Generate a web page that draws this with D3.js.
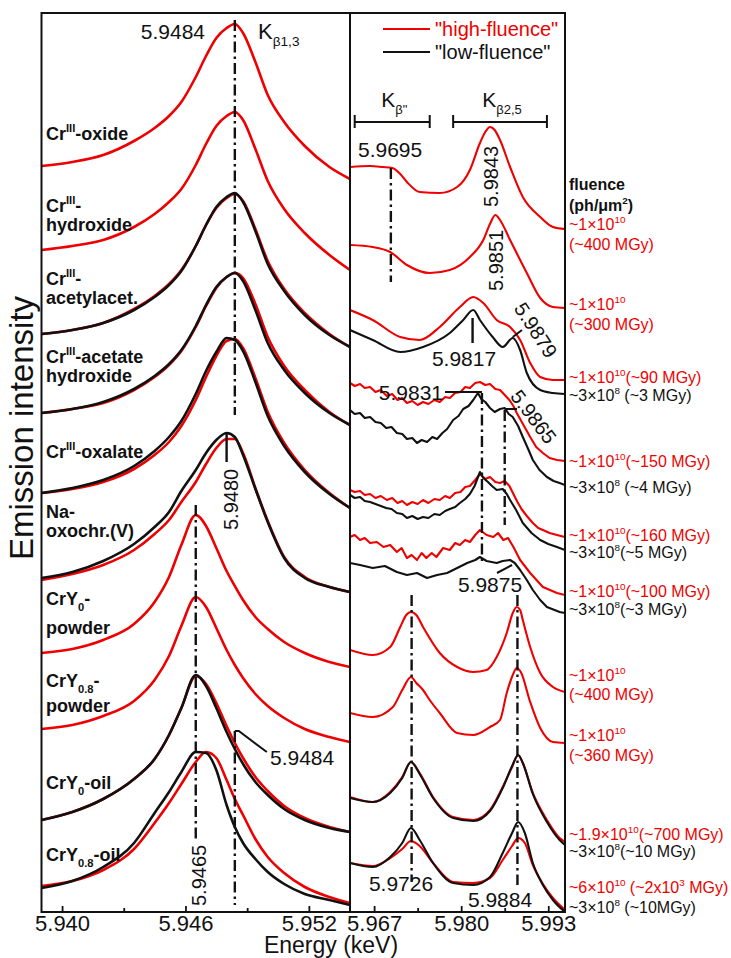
<!DOCTYPE html>
<html>
<head>
<meta charset="utf-8">
<script src="https://cdnjs.cloudflare.com/ajax/libs/d3/7.8.5/d3.min.js"></script>
<style>
  body { margin: 0; background: #fff; }
  svg { display: block; }
</style>
</head>
<body>
<div id="chart"></div>
<script>
// ---- data ---------------------------------------------------------------
// Kβ1,3 region: energy grid (keV) shared by all main-line spectra
const leftE = [5.9390, 5.9405, 5.9420, 5.9435, 5.9445, 5.9452, 5.9458, 5.9465, 5.9470, 5.9475,
               5.9480, 5.9484, 5.9488, 5.9494, 5.9500, 5.9508, 5.9518, 5.9530, 5.9540];

// intensities above each spectrum's own baseline (a.u.)
const oxideHigh   = [1.3, 1.7, 2.4, 3.8, 5.1, 6.3, 7.7, 10.2, 12.3, 14.1, 15.1, 15.5, 14.6, 11.7, 8.4, 5.7, 3.3, 1.2, 0];
const hydroxHigh  = [2.0, 2.4, 3.0, 4.3, 5.6, 6.8, 8.1, 10.5, 12.6, 14.4, 15.4, 15.8, 15.0, 12.1, 8.9, 6.1, 3.7, 1.5, 0];
const acacHigh    = [1.3, 1.7, 2.4, 3.8, 5.1, 6.3, 7.7, 10.1, 12.2, 13.9, 14.9, 15.3, 14.6, 11.8, 8.6, 5.8, 3.4, 1.3, 0];
const acacLow     = [1.3, 1.7, 2.4, 3.7, 5.0, 6.2, 7.6, 10.1, 12.2, 14.0, 15.0, 15.4, 14.5, 11.6, 8.3, 5.6, 3.2, 1.2, 0];
const acetHigh    = [1.2, 1.6, 2.2, 3.5, 4.8, 6.0, 7.4, 9.8, 11.9, 13.7, 14.8, 15.2, 14.7, 12.1, 8.8, 5.9, 3.5, 1.3, 0];
const acetLow     = [1.2, 1.6, 2.3, 3.6, 4.9, 6.1, 7.5, 9.9, 12.0, 13.8, 14.8, 15.2, 14.4, 11.5, 8.2, 5.5, 3.2, 1.2, 0];
const oxalHigh    = [1.5, 1.9, 2.6, 3.9, 5.3, 6.6, 8.2, 10.8, 13.1, 15.2, 16.7, 16.9, 16.0, 13.0, 9.6, 6.5, 3.8, 1.5, 0];
const oxalLow     = [1.5, 2.0, 2.8, 4.2, 5.7, 7.1, 8.7, 11.4, 13.7, 15.6, 17.0, 16.8, 15.7, 12.6, 9.2, 6.2, 3.6, 1.4, 0];
const naoxoHigh   = [1.2, 1.8, 2.7, 4.2, 5.8, 7.2, 9.0, 11.0, 12.8, 14.4, 15.3, 15.3, 13.9, 10.4, 7.1, 3.5, 1.5, 0.5, 0];
const naoxoLow    = [1.4, 2.0, 3.1, 4.8, 6.5, 8.0, 10.1, 12.2, 13.9, 15.2, 15.9, 15.5, 13.7, 10.3, 7.0, 3.4, 1.4, 0.5, 0];
const y0powHigh   = [1.4, 1.8, 2.7, 4.3, 6.5, 9.0, 12.2, 15.2, 14.1, 11.9, 9.6, 8.1, 6.7, 5.0, 3.8, 2.5, 1.4, 0.5, 0];
const y08powHigh  = [1.3, 1.7, 2.6, 4.1, 6.2, 8.6, 11.6, 14.5, 13.5, 11.4, 9.2, 7.7, 6.4, 4.8, 3.6, 2.4, 1.3, 0.5, 0];
const y0oilHigh   = [1.2, 2.0, 3.3, 5.3, 7.3, 9.7, 12.4, 15.6, 14.8, 12.9, 10.6, 8.9, 7.4, 5.5, 4.1, 2.6, 1.4, 0.5, 0];
const y0oilLow    = [1.2, 2.0, 3.3, 5.3, 7.3, 9.7, 12.4, 15.7, 14.6, 12.4, 10.0, 8.3, 6.8, 5.0, 3.7, 2.3, 1.2, 0.4, 0];
const y08oilHigh  = [1.9, 2.4, 3.5, 5.6, 8.2, 10.2, 12.1, 14.3, 15.3, 14.7, 12.5, 10.6, 9.0, 6.6, 4.8, 3.2, 1.8, 0.8, 0.2];
const y08oilLow   = [1.7, 2.4, 3.8, 6.2, 9.2, 11.3, 13.3, 15.3, 15.2, 13.5, 10.0, 7.8, 6.2, 4.6, 3.3, 2.1, 1.1, 0.5, 0];

// vertical stacking offset of each sample (top to bottom)
const leftOffsets = [73.3, 64.2, 56.5, 48.7, 40.4, 32.0, 24.5, 17.0, 8.0, 0.7];
const leftHigh = [oxideHigh, hydroxHigh, acacHigh, acetHigh, oxalHigh, naoxoHigh, y0powHigh, y08powHigh, y0oilHigh, y08oilHigh];
const leftLow  = [null, null, acacLow, acetLow, oxalLow, naoxoLow, null, null, y0oilLow, y08oilLow];

// Kβ'' / Kβ2,5 region: [energy keV, stacked intensity a.u.]
const r1High = [[5.9634,74.5],[5.9664,74.6],[5.9683,74.5],[5.9697,74.4],[5.9709,73.8],[5.9719,73.0],[5.9738,72.0],[5.9768,71.9],[5.9794,72.5],[5.9813,74.2],[5.9828,76.9],[5.9836,78.0],[5.9843,78.5],[5.9850,78.2],[5.9858,77.2],[5.9873,74.5],[5.9892,71.5],[5.9918,69.5],[5.9937,68.5],[5.9955,68.3]];
const r2High = [[5.9634,66.7],[5.9668,66.5],[5.9694,66.0],[5.9719,64.7],[5.9753,63.9],[5.9783,64.2],[5.9813,65.5],[5.9833,67.2],[5.9843,68.8],[5.9851,69.7],[5.9858,69.2],[5.9873,67.2],[5.9898,63.9],[5.9918,61.4],[5.9937,60.5],[5.9955,60.4]];
const r3High = [[5.9634,60.2],[5.9668,59.2],[5.9709,57.5],[5.9738,57.2],[5.9768,58.5],[5.9798,60.5],[5.9818,61.5],[5.9833,60.9],[5.9853,59.2],[5.9873,58.5],[5.9888,57.2],[5.9903,54.9],[5.9918,53.5],[5.9937,53.2],[5.9955,53.2]];
const r3Low  = [[5.9634,58.2],[5.9668,57.2],[5.9709,56.0],[5.9743,56.5],[5.9783,57.9],[5.9803,59.2],[5.9818,60.2],[5.9828,59.2],[5.9847,57.5],[5.9862,56.5],[5.9877,57.4],[5.9888,56.2],[5.9898,53.9],[5.9918,52.2],[5.9937,51.9],[5.9955,51.8]];
const r4High = [[5.9634,52.9],[5.9641,52.6],[5.9649,52.8],[5.9656,52.4],[5.9664,52.5],[5.9672,52.0],[5.9680,52.2],[5.9689,51.6],[5.9697,51.8],[5.9705,51.2],[5.9712,51.4],[5.9719,50.9],[5.9727,51.1],[5.9735,50.7],[5.9743,51.0],[5.9751,50.8],[5.9760,51.2],[5.9768,51.0],[5.9776,51.5],[5.9783,51.4],[5.9791,51.9],[5.9799,52.0],[5.9806,52.5],[5.9813,52.4],[5.9821,52.9],[5.9828,53.0],[5.9836,52.7],[5.9843,52.8],[5.9851,52.3],[5.9858,52.2],[5.9865,51.7],[5.9872,51.2],[5.9878,50.6],[5.9883,49.9],[5.9893,48.7],[5.9903,47.5],[5.9912,46.5],[5.9922,45.9],[5.9932,45.4],[5.9943,45.2],[5.9955,45.1]];
const r4Low  = [[5.9634,50.2],[5.9641,49.8],[5.9649,49.9],[5.9656,49.4],[5.9664,49.5],[5.9672,49.0],[5.9680,48.9],[5.9688,48.4],[5.9696,48.5],[5.9704,47.9],[5.9712,47.8],[5.9719,47.3],[5.9727,47.4],[5.9734,46.9],[5.9741,47.2],[5.9749,47.0],[5.9757,47.5],[5.9764,47.3],[5.9772,47.9],[5.9779,48.3],[5.9788,49.2],[5.9796,49.6],[5.9803,50.3],[5.9811,50.6],[5.9818,51.2],[5.9825,51.9],[5.9830,51.3],[5.9836,51.0],[5.9843,50.4],[5.9850,50.0],[5.9858,50.3],[5.9865,50.4],[5.9871,49.8],[5.9877,49.5],[5.9885,48.6],[5.9892,47.5],[5.9900,46.3],[5.9907,45.2],[5.9917,44.2],[5.9928,43.5],[5.9938,43.1],[5.9947,42.9],[5.9955,42.7]];
const r5High = [[5.9634,42.2],[5.9641,42.0],[5.9649,42.1],[5.9656,41.7],[5.9664,41.8],[5.9672,41.4],[5.9680,41.6],[5.9689,41.2],[5.9697,41.4],[5.9705,40.9],[5.9712,41.1],[5.9719,40.7],[5.9727,41.0],[5.9735,40.8],[5.9743,41.2],[5.9751,40.9],[5.9760,41.3],[5.9768,41.2],[5.9776,41.6],[5.9783,41.4],[5.9791,41.9],[5.9799,42.0],[5.9806,42.5],[5.9813,42.6],[5.9821,43.2],[5.9828,43.8],[5.9836,43.3],[5.9843,43.5],[5.9851,43.0],[5.9858,42.9],[5.9865,43.1],[5.9872,42.6],[5.9878,41.8],[5.9884,41.0],[5.9890,40.3],[5.9898,39.6],[5.9907,38.9],[5.9915,38.4],[5.9922,38.2],[5.9932,37.9],[5.9943,37.7],[5.9955,37.5]];
const r5Low  = [[5.9634,41.7],[5.9641,41.4],[5.9649,41.5],[5.9656,41.1],[5.9664,41.0],[5.9672,40.8],[5.9680,40.6],[5.9688,40.4],[5.9696,40.3],[5.9704,39.9],[5.9712,39.8],[5.9719,39.4],[5.9727,39.6],[5.9735,39.3],[5.9743,39.5],[5.9751,39.4],[5.9760,39.8],[5.9768,39.7],[5.9776,40.1],[5.9783,40.3],[5.9791,40.5],[5.9798,40.9],[5.9806,41.3],[5.9813,41.8],[5.9820,42.6],[5.9828,44.0],[5.9833,43.4],[5.9840,43.0],[5.9846,42.6],[5.9853,42.2],[5.9862,42.3],[5.9868,41.8],[5.9873,41.2],[5.9882,40.2],[5.9892,38.9],[5.9905,37.9],[5.9918,37.2],[5.9930,36.8],[5.9943,36.5],[5.9955,36.2]];
const r6High = [[5.9634,37.5],[5.9641,37.7],[5.9649,37.2],[5.9656,37.4],[5.9664,36.9],[5.9674,37.0],[5.9684,36.5],[5.9694,36.7],[5.9704,36.0],[5.9711,36.4],[5.9719,35.4],[5.9726,35.7],[5.9734,35.2],[5.9741,35.9],[5.9748,35.4],[5.9756,35.9],[5.9763,35.5],[5.9773,36.4],[5.9783,36.2],[5.9791,36.9],[5.9798,36.7],[5.9806,37.2],[5.9813,37.0],[5.9821,37.7],[5.9828,38.2],[5.9838,37.7],[5.9848,37.5],[5.9855,37.9],[5.9863,37.2],[5.9870,37.4],[5.9878,36.5],[5.9888,35.2],[5.9903,33.9],[5.9922,32.5],[5.9943,31.9],[5.9955,31.7]];
const r6Low  = [[5.9634,34.9],[5.9649,34.7],[5.9668,34.4],[5.9686,34.6],[5.9704,34.0],[5.9719,33.7],[5.9734,33.9],[5.9749,33.4],[5.9764,33.7],[5.9779,33.9],[5.9794,34.4],[5.9809,34.9],[5.9821,35.2],[5.9828,35.5],[5.9838,35.1],[5.9853,34.9],[5.9862,35.1],[5.9873,35.2],[5.9880,34.9],[5.9888,34.2],[5.9898,33.2],[5.9907,32.2],[5.9918,31.2],[5.9928,30.5],[5.9947,30.0],[5.9955,29.9]];
const r7High = [[5.9634,26.2],[5.9668,25.7],[5.9694,26.5],[5.9709,28.5],[5.9718,29.7],[5.9725,30.0],[5.9733,29.7],[5.9743,28.5],[5.9768,25.9],[5.9794,24.5],[5.9818,24.0],[5.9838,24.2],[5.9853,25.5],[5.9868,27.9],[5.9877,29.9],[5.9883,30.5],[5.9888,30.2],[5.9892,29.2],[5.9903,26.5],[5.9918,23.9],[5.9937,22.5],[5.9955,22.0]];
const r8High = [[5.9634,19.9],[5.9668,19.5],[5.9698,20.5],[5.9712,22.2],[5.9725,23.5],[5.9733,22.9],[5.9743,22.2],[5.9753,21.2],[5.9768,19.9],[5.9794,17.9],[5.9818,17.7],[5.9843,18.5],[5.9858,19.2],[5.9868,21.9],[5.9877,23.7],[5.9883,24.4],[5.9889,24.0],[5.9903,21.0],[5.9918,18.4],[5.9937,17.0],[5.9955,16.9]];
const r9High = [[5.9634,11.5],[5.9668,11.0],[5.9694,12.0],[5.9712,13.5],[5.9725,15.0],[5.9738,13.9],[5.9758,11.5],[5.9788,9.5],[5.9818,9.2],[5.9843,10.2],[5.9862,12.5],[5.9876,14.5],[5.9885,15.7],[5.9892,14.9],[5.9907,11.9],[5.9928,9.2],[5.9947,7.4],[5.9955,7.0]];
const r9Low  = [[5.9634,11.4],[5.9668,11.0],[5.9694,11.9],[5.9712,13.4],[5.9725,15.0],[5.9738,13.8],[5.9758,11.4],[5.9788,9.4],[5.9818,9.1],[5.9843,10.1],[5.9862,12.4],[5.9876,14.6],[5.9885,15.7],[5.9892,14.9],[5.9907,11.8],[5.9928,9.0],[5.9947,7.2],[5.9955,6.7]];
const r10High = [[5.9634,4.9],[5.9668,4.6],[5.9694,5.4],[5.9712,6.3],[5.9725,7.1],[5.9738,6.6],[5.9758,4.9],[5.9788,3.0],[5.9818,2.9],[5.9843,3.4],[5.9862,5.2],[5.9876,6.6],[5.9885,7.4],[5.9895,6.9],[5.9907,4.7],[5.9922,2.8],[5.9937,1.4],[5.9955,0.2]];
const r10Low  = [[5.9634,4.9],[5.9668,4.5],[5.9694,5.5],[5.9712,6.9],[5.9725,8.4],[5.9738,7.2],[5.9758,4.9],[5.9788,2.9],[5.9818,2.7],[5.9843,3.5],[5.9862,5.9],[5.9876,7.9],[5.9885,9.0],[5.9895,7.9],[5.9907,4.9],[5.9922,2.7],[5.9937,1.2],[5.9955,0.0]];

const rightHigh = [r1High, r2High, r3High, r4High, r5High, r6High, r7High, r8High, r9High, r10High];
const rightLow  = [null, null, r3Low, r4Low, r5Low, r6Low, null, null, r9Low, r10Low];
const rightNoisy = [false, false, false, true, true, true, false, false, false, false];

const leftTicks = [5.940, 5.946, 5.952], leftMinor = [5.943, 5.949];
const rightTicks = [5.967, 5.980, 5.993], rightMinor = [5.9735, 5.9865];

// ---- layout -------------------------------------------------------------
const width = 731, height = 958;
const RED = "#ee0000", INK = "#111";
const FONT = "'Liberation Sans', Arial, Helvetica, sans-serif";
const yTop = 13, yBottom = 912, x0 = 41.5, xMid = 350, x1 = 565;

const xL = d3.scaleLinear().domain([5.9390, 5.9540]).range([x0, xMid]);
const xR = d3.scaleLinear().domain([5.9634, 5.9955]).range([xMid, x1]);
const y = d3.scaleLinear().domain([0, 89.9]).range([yBottom, yTop]);

const svg = d3.select("#chart").append("svg")
    .attr("width", width).attr("height", height)
    .style("font-family", FONT);

const defs = svg.append("defs");
defs.append("clipPath").attr("id", "clipL").append("rect")
    .attr("x", x0).attr("y", yTop).attr("width", xMid - x0).attr("height", yBottom - yTop);
defs.append("clipPath").attr("id", "clipR").append("rect")
    .attr("x", xMid).attr("y", yTop).attr("width", x1 - xMid).attr("height", yBottom - yTop);

// rich text with sup/sub parts
function richText(g, x, yb, parts, o) {
  const t = g.append("text").attr("x", x).attr("y", yb)
      .attr("font-size", o.size).attr("fill", o.fill || INK)
      .attr("font-weight", o.weight || null)
      .attr("text-anchor", o.anchor || "start");
  let shift = 0;
  parts.forEach(p => {
    const [s, kind] = Array.isArray(p) ? p : [p, null];
    const off = kind === "sup" ? -o.size * 0.42 : kind === "sub" ? o.size * 0.32 : 0;
    t.append("tspan").attr("dy", off - shift)
        .attr("font-size", kind ? o.size * 0.62 : null).text(s);
    shift = off;
  });
  return t;
}

const dashDot = "11,4,2.5,4";

// ---- left panel curves ------------------------------------------------------
const gL = svg.append("g").attr("clip-path", "url(#clipL)");
const lineL = d3.line().x(d => xL(d[0])).y(d => y(d[1])).curve(d3.curveMonotoneX);

leftHigh.forEach((arr, i) => {
  const toPts = a => leftE.map((e, k) => [e, leftOffsets[i] + a[k]]);
  gL.append("path").datum(toPts(arr)).attr("d", lineL)
    .attr("fill", "none").attr("stroke", RED).attr("stroke-width", 2.6);
  if (leftLow[i]) {
    gL.append("path").datum(toPts(leftLow[i])).attr("d", lineL)
      .attr("fill", "none").attr("stroke", INK).attr("stroke-width", 2.6);
  }
});

// ---- right panel curves -----------------------------------------------------
const gR = svg.append("g").attr("clip-path", "url(#clipR)");
const lineR = d3.line().x(d => xR(d[0])).y(d => y(d[1])).curve(d3.curveMonotoneX);
const lineRaw = d3.line().x(d => xR(d[0])).y(d => y(d[1]));

rightHigh.forEach((arr, i) => {
  const gen = rightNoisy[i] ? lineRaw : lineR;
  gR.append("path").datum(arr).attr("d", gen)
    .attr("fill", "none").attr("stroke", RED).attr("stroke-width", 2.1)
    .attr("stroke-linejoin", "round");
  if (rightLow[i]) {
    gR.append("path").datum(rightLow[i]).attr("d", gen)
      .attr("fill", "none").attr("stroke", INK).attr("stroke-width", 2.1)
      .attr("stroke-linejoin", "round");
  }
});

// ---- frame and axes ---------------------------------------------------------
svg.append("rect").attr("x", x0).attr("y", yTop).attr("width", x1 - x0).attr("height", yBottom - yTop)
    .attr("fill", "none").attr("stroke", INK).attr("stroke-width", 2);
svg.append("line").attr("x1", xMid).attr("x2", xMid).attr("y1", yTop).attr("y2", yBottom)
    .attr("stroke", INK).attr("stroke-width", 2);

function drawAxis(scale, major, minor) {
  const gMaj = svg.append("g").attr("transform", `translate(0,${yBottom})`)
      .call(d3.axisBottom(scale).tickValues(major).tickSize(-6).tickPadding(3).tickFormat(d3.format(".3f")));
  const gMin = svg.append("g").attr("transform", `translate(0,${yBottom})`)
      .call(d3.axisBottom(scale).tickValues(minor).tickSize(-4).tickFormat(""));
  [gMaj, gMin].forEach(g => {
    g.select(".domain").remove();
    g.selectAll(".tick line").attr("stroke", INK).attr("stroke-width", 1.8);
  });
  gMaj.selectAll("text").attr("font-size", 22).attr("font-family", FONT).attr("fill", INK);
}
drawAxis(xL, leftTicks, leftMinor);
drawAxis(xR, rightTicks, rightMinor);

svg.append("text").attr("x", 331).attr("y", 953).attr("text-anchor", "middle")
    .attr("font-size", 23).attr("fill", INK).text("Energy (keV)");
svg.append("text").attr("transform", "translate(33,428) rotate(-90)").attr("text-anchor", "middle")
    .attr("font-size", 33).attr("fill", INK).text("Emission intensity");

// ---- left annotations -------------------------------------------------------
const ann = svg.append("g").attr("fill", INK).attr("font-size", 21);

function vline(x, ya, yb, dashed) {
  ann.append("line").attr("x1", x).attr("x2", x).attr("y1", ya).attr("y2", yb)
    .attr("stroke", INK).attr("stroke-width", 2.4)
    .attr("stroke-dasharray", dashed ? dashDot : null);
}
function poly(pts) {
  ann.append("path").attr("d", d3.line()(pts)).attr("fill", "none")
    .attr("stroke", INK).attr("stroke-width", 2);
}
function rotText(x, yy, angle, txt, anchor) {
  ann.append("text").attr("transform", `translate(${x},${yy}) rotate(${angle})`)
    .attr("text-anchor", anchor || "start").attr("font-size", 20).text(txt);
}

vline(xL(5.9484), 20, 415, true);
ann.append("text").attr("x", 205).attr("y", 39).attr("text-anchor", "end").text("5.9484");
richText(ann, 258, 39, ["K", ["β1,3", "sub"]], { size: 22 });

vline(xL(5.9480), 433, 462, false);
rotText(238, 530, -90, "5.9480");

vline(xL(5.9465), 505, 840, true);
rotText(206, 906, -90, "5.9465");

vline(xL(5.9484), 731, 905, true);
poly([[xL(5.9484), 731], [xL(5.9484) + 4, 731], [xL(5.9484) + 32, 752]]);
ann.append("text").attr("x", 270).attr("y", 765).text("5.9484");

const leftLabelLines = [
  [["Cr", ["III", "sup"], "-oxide"], 140],
  [["Cr", ["III", "sup"], "-"], 212],
  [["hydroxide"], 231],
  [["Cr", ["III", "sup"], "-"], 285],
  [["acetylacet."], 304],
  [["Cr", ["III", "sup"], "-acetate"], 363],
  [["hydroxide"], 382],
  [["Cr", ["III", "sup"], "-oxalate"], 458],
  [["Na-"], 518],
  [["oxochr.(V)"], 537],
  [["CrY", ["0", "sub"], "-"], 605],
  [["powder"], 634],
  [["CrY", ["0.8", "sub"], "-"], 687],
  [["powder"], 712],
  [["CrY", ["0", "sub"], "-oil"], 789],
  [["CrY", ["0.8", "sub"], "-oil"], 861]
];
leftLabelLines.forEach(([parts, yb]) => richText(svg, 46, yb, parts, { size: 18, weight: "bold" }));

// ---- right annotations ------------------------------------------------------
// legend
[["\"high-fluence\"", RED, 29], ["\"low-fluence\"", INK, 52]].forEach(([t, c, yy]) => {
  svg.append("line").attr("x1", 383).attr("x2", 430).attr("y1", yy).attr("y2", yy)
    .attr("stroke", c).attr("stroke-width", 2.2);
  svg.append("text").attr("x", 435).attr("y", yy + 7).attr("font-size", 20).attr("fill", c).text(t);
});

// region brackets
const brackets = [[[5.9641, 5.9753], ["K", ["β\"", "sub"]]], [[5.9788, 5.9928], ["K", ["β2,5", "sub"]]]];
brackets.forEach(([[ea, eb], label]) => {
  const xa = xR(ea), xb = xR(eb), yy = 122;
  poly([[xa, yy], [xb, yy]]);
  poly([[xa, yy - 7], [xa, yy + 6]]);
  poly([[xb, yy - 7], [xb, yy + 6]]);
  richText(ann, (xa + xb) / 2 + 2, 107, label, { size: 21, anchor: "middle" });
});

ann.append("text").attr("x", 358).attr("y", 157).text("5.9695");
vline(xR(5.9695), 168, 282, true);
rotText(498, 207, -90, "5.9843");
rotText(503, 291, -90, "5.9851");

vline(xR(5.9817), 318, 343, false);
ann.append("text").attr("x", 464).attr("y", 366).attr("text-anchor", "middle").text("5.9817");

poly([[xR(5.9877), 337], [522, 330]]);
rotText(530, 334, 57, "5.9879", "middle");

ann.append("text").attr("x", 443).attr("y", 400).attr("text-anchor", "end").text("5.9831");
poly([[445, 392], [xR(5.9831), 392]]);
vline(xR(5.9831), 393, 565, true);

poly([[xR(5.9865), 409], [517, 409]]);
vline(xR(5.9865), 410, 525, true);
rotText(528, 421, 53, "5.9865", "middle");

poly([[497, 573], [xR(5.9876), 565]]);
ann.append("text").attr("x", 490).attr("y", 592).attr("text-anchor", "middle").text("5.9875");

vline(xR(5.9726), 595, 882, true);
ann.append("text").attr("x", 401).attr("y", 891).attr("text-anchor", "middle").text("5.9726");
vline(xR(5.9884), 595, 885, true);
ann.append("text").attr("x", 500).attr("y", 907).attr("text-anchor", "middle").text("5.9884");

// fluence / dose labels
richText(svg, 569, 190, ["fluence"], { size: 16, weight: "bold" });
richText(svg, 569, 211, ["(ph/μm", ["2", "sup"], ")"], { size: 16, weight: "bold" });

const E10 = ["~1×10", ["10", "sup"]];
const E8 = ["~3×10", ["8", "sup"]];
const doseLabels = [
  [E10, RED, 230], [["(~400 MGy)"], RED, 250],
  [E10, RED, 310], [["(~300 MGy)"], RED, 330],
  [[...E10, "(~90 MGy)"], RED, 383],
  [[...E8, " (~3 MGy)"], INK, 401],
  [[...E10, "(~150 MGy)"], RED, 467],
  [[...E8, " (~4 MGy)"], INK, 493],
  [[...E10, "(~160 MGy)"], RED, 541],
  [[...E8, "(~5 MGy)"], INK, 558],
  [[...E10, "(~100 MGy)"], RED, 597],
  [[...E8, "(~3 MGy)"], INK, 615],
  [E10, RED, 681], [["(~400 MGy)"], RED, 700],
  [E10, RED, 741], [["(~360 MGy)"], RED, 761],
  [["~1.9×10", ["10", "sup"], "(~700 MGy)"], RED, 840],
  [[...E8, "(~10 MGy)"], INK, 857],
  [["~6×10", ["10", "sup"], " (~2x10", ["3", "sup"], " MGy)"], RED, 893],
  [[...E8, " (~10MGy)"], INK, 913]
];
doseLabels.forEach(([parts, c, yb]) => richText(svg, 569, yb, parts, { size: 16, fill: c }));
</script>
</body>
</html>
